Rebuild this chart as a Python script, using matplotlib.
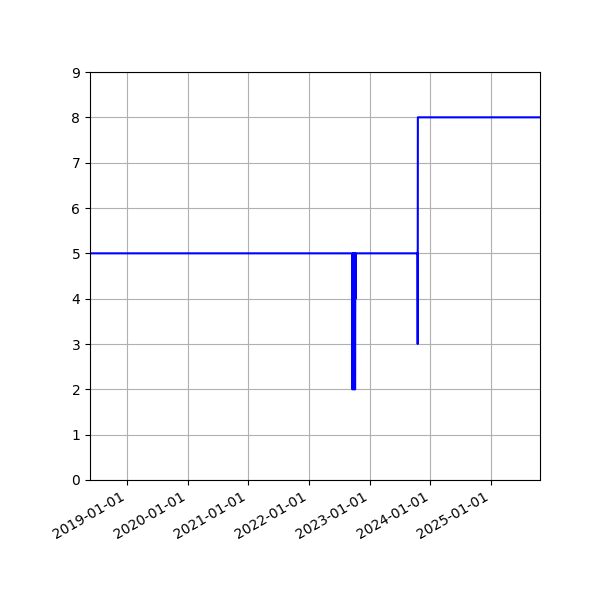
import numpy as np
import pandas as pd
import matplotlib
matplotlib.use('Agg')
import matplotlib.pyplot as plt
import matplotlib.dates as mdates

# data
dates = ['2018-05-24', '2022-09-18', '2022-09-19', '2022-09-22', '2022-09-25',
         '2022-09-28', '2022-10-01', '2022-10-04', '2022-10-05', '2022-10-07',
         '2022-10-08', '2022-10-09', '2023-10-16', '2023-10-17', '2023-10-18',
         '2025-10-22']
values = [5, 5, 2, 5, 2, 5, 2, 5, 2, 5, 4, 5, 5, 3, 8, 8]

x = pd.to_datetime(dates)

fig, ax = plt.subplots(figsize=(6, 6), dpi=100)
ax.plot(x, values, color='blue', linewidth=1.5)
ax.set_xlim(x[0], x[-1])
ax.set_ylim(0, 9)
ax.xaxis.set_major_locator(mdates.YearLocator())
ax.xaxis.set_major_formatter(mdates.DateFormatter('%Y-%m-%d'))
ax.grid(True)
fig.autofmt_xdate()
fig.subplots_adjust(left=0.15, right=0.9, top=0.88, bottom=0.2)
fig.savefig('out.png')
